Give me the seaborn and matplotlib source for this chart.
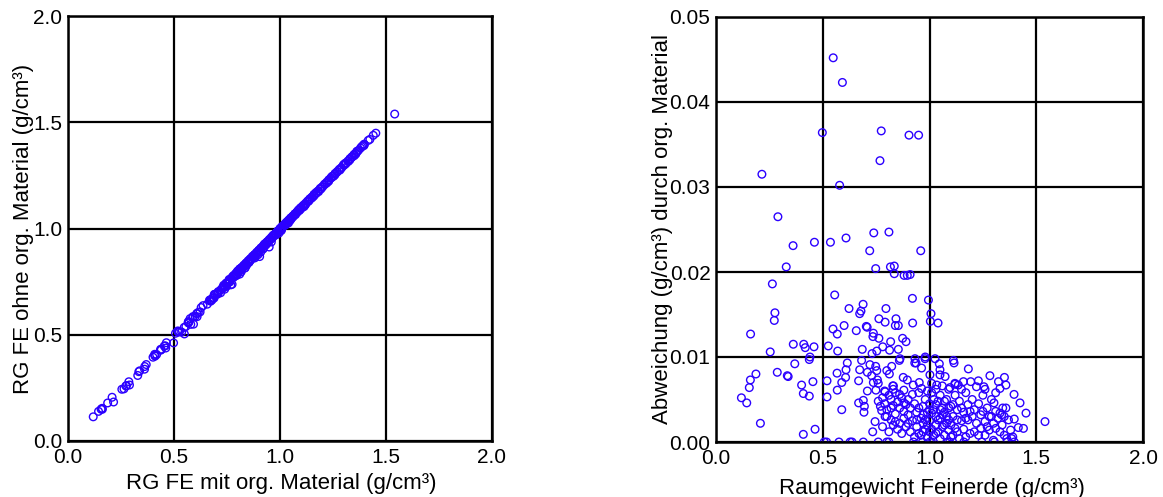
import matplotlib
matplotlib.use("Agg")
import matplotlib.pyplot as plt
import seaborn as sns
import pandas as pd

# Raumgewicht Feinerde mit org. Material (g/cm3) and Abweichung (g/cm3)
rg_mit = [
    0.549, 0.592, 0.498, 0.774, 0.904, 0.949, 0.768, 0.215, 0.579, 0.290,
    0.361, 0.461, 0.536, 0.609, 0.739, 0.810, 0.720, 0.959, 0.329, 0.748,
    0.817, 0.835, 0.835, 0.881, 0.896, 0.909, 0.264, 0.556, 0.689, 0.623,
    0.679, 0.673, 0.796, 0.276, 0.273, 0.162, 0.548, 0.568, 0.600, 0.657,
    0.704, 0.708, 0.763, 0.792, 0.843, 0.840, 0.854, 0.737, 0.735, 0.763,
    0.818, 0.813, 0.781, 0.753, 0.731, 0.685, 0.362, 0.411, 0.418, 0.459,
    0.526, 0.570, 0.254, 0.440, 0.854, 0.920, 0.995, 1.007, 1.004, 1.040,
    0.921, 0.874, 0.890, 0.862, 0.932, 0.979, 1.026, 1.112, 0.437, 0.369,
    0.187, 0.161, 0.156, 0.287, 0.334, 0.338, 0.401, 0.409, 0.437, 0.454,
    0.119, 0.144, 0.208, 0.409, 0.464, 0.520, 0.520, 0.567, 0.568, 0.589,
    0.607, 0.615, 0.609, 0.589, 0.673, 0.682, 0.668, 0.709, 0.721, 0.729,
    0.709, 0.668, 0.690, 0.695, 0.693, 0.748, 0.753, 0.756, 0.760, 0.749,
    0.737, 0.800, 0.812, 0.823, 0.828, 0.792, 0.745, 0.734, 0.776, 0.792,
    0.507, 0.518, 0.576, 0.628, 0.637, 0.690, 0.760, 0.800, 0.810, 0.925,
    0.967, 1.001, 1.009, 1.085, 1.094, 1.161, 1.245, 1.304, 1.363, 1.397,
    0.859, 0.937, 0.931, 0.980, 1.046, 1.049, 1.049, 1.115, 1.182, 1.283,
    1.323, 1.351, 1.358, 1.330, 0.877, 0.896, 0.924, 0.952, 0.963, 0.963,
    1.002, 1.010, 1.034, 1.073, 1.096, 1.119, 1.135, 1.159, 1.193, 1.229,
    1.255, 0.831, 1.396, 1.424, 1.452, 1.397, 1.416, 1.440, 1.541, 1.302,
    1.343, 1.358, 1.338, 1.362, 1.385, 1.299,
    0.76, 0.77, 0.78, 0.79, 0.80, 0.81, 0.82, 0.83, 0.84, 0.85,
    0.86, 0.87, 0.88, 0.89, 0.80, 0.82, 0.84, 0.86, 0.88, 0.90,
    0.78, 0.81, 0.83, 0.85, 0.87, 0.89, 0.79, 0.83, 0.86, 0.88,
    0.90, 0.91, 0.92, 0.93, 0.94, 0.92, 0.94, 0.91, 0.93, 0.95,
    0.96, 0.97, 0.98, 0.99, 0.97, 0.98, 0.99, 1.00, 1.00, 1.01,
    1.02, 1.03, 1.01, 1.02, 1.03, 1.04, 1.05, 1.06, 1.04, 1.05,
    1.06, 1.07, 1.08, 1.09, 1.07, 1.08, 1.09, 1.10, 1.11, 1.12,
    1.10, 1.11, 1.12, 1.13, 1.14, 1.15, 1.13, 1.14, 1.16, 1.17,
    1.18, 1.16, 1.18, 1.19, 1.20, 1.21, 1.22, 1.20, 1.21, 1.23,
    1.24, 1.25, 1.24, 1.26, 1.27, 1.28, 1.26, 1.28, 1.29, 1.30,
    1.31, 1.32, 1.33, 1.34, 1.35, 1.37, 1.38, 1.39, 1.31, 1.26,
    1.22, 1.15, 1.12, 1.06, 1.03, 0.99, 0.95,
    0.96, 0.97, 0.98, 1.00, 1.01, 1.02, 1.03, 1.04, 1.05, 1.06,
    1.07, 1.08, 1.09, 1.10, 1.00, 0.99, 1.03, 1.05, 1.07, 1.09,
    0.97, 0.95, 0.94, 0.90, 0.88, 0.84, 0.82, 1.11, 1.13, 1.15,
    1.17, 1.19, 1.17, 1.23, 1.25, 1.27, 1.29, 1.33, 1.35, 1.31,
]

abweichung = [
    0.0452, 0.0423, 0.0364, 0.0366, 0.0361, 0.0361, 0.0331, 0.0315, 0.0302, 0.0265,
    0.0231, 0.0235, 0.0235, 0.0240, 0.0246, 0.0247, 0.0225, 0.0225, 0.0206, 0.0204,
    0.0206, 0.0207, 0.0198, 0.0196, 0.0196, 0.0197, 0.0186, 0.0173, 0.0162, 0.0157,
    0.0154, 0.0151, 0.0157, 0.0152, 0.0143, 0.0127, 0.0133, 0.0127, 0.0137, 0.0131,
    0.0136, 0.0135, 0.0145, 0.0141, 0.0145, 0.0137, 0.0137, 0.0128, 0.0124, 0.0122,
    0.0118, 0.0108, 0.0112, 0.0107, 0.0104, 0.0109, 0.0115, 0.0115, 0.0111, 0.0112,
    0.0113, 0.0107, 0.0106, 0.0100, 0.0109, 0.0169, 0.0167, 0.0151, 0.0142, 0.0140,
    0.0140, 0.0122, 0.0118, 0.0098, 0.0098, 0.0098, 0.0098, 0.0096, 0.0097, 0.0092,
    0.0080, 0.0073, 0.0064, 0.0082, 0.0078, 0.0077, 0.0067, 0.0057, 0.0054, 0.0071,
    0.0052, 0.0046, 0.0022, 0.0009, 0.0015, 0.0072, 0.0053, 0.0081, 0.0061, 0.0070,
    0.0076, 0.0093, 0.0085, 0.0038, 0.0085, 0.0096, 0.0072, 0.0082, 0.0091, 0.0078,
    0.0060, 0.0046, 0.0049, 0.0042, 0.0035, 0.0089, 0.0084, 0.0073, 0.0069, 0.0061,
    0.0070, 0.0084, 0.0080, 0.0089, 0.0066, 0.0059, 0.0024, 0.0012, 0.0037, 0.0030,
    0.0000, 0.0000, 0.0000, 0.0000, 0.0000, 0.0000, 0.0000, 0.0000, 0.0000, 0.0000,
    0.0000, 0.0000, 0.0000, 0.0000, 0.0000, 0.0000, 0.0000, 0.0000, 0.0000, 0.0000,
    0.0096, 0.0093, 0.0093, 0.0100, 0.0092, 0.0085, 0.0079, 0.0093, 0.0086, 0.0078,
    0.0071, 0.0076, 0.0067, 0.0063, 0.0076, 0.0073, 0.0067, 0.0070, 0.0087, 0.0063,
    0.0079, 0.0069, 0.0067, 0.0077, 0.0064, 0.0069, 0.0067, 0.0071, 0.0071, 0.0072,
    0.0065, 0.0066, 0.0056, 0.0046, 0.0034, 0.0027, 0.0017, 0.0016, 0.0024, 0.0046,
    0.0040, 0.0040, 0.0032, 0.0004, 0.0004, 0.0002,
    0.0048, 0.0042, 0.0052, 0.0045, 0.0038, 0.0055, 0.0050, 0.0043, 0.0058, 0.0047,
    0.0040, 0.0052, 0.0036, 0.0044, 0.0030, 0.0026, 0.0033, 0.0022, 0.0028, 0.0032,
    0.0018, 0.0012, 0.0020, 0.0015, 0.0010, 0.0018, 0.0060, 0.0062, 0.0056, 0.0061,
    0.0050, 0.0040, 0.0056, 0.0045, 0.0035, 0.0025, 0.0018, 0.0012, 0.0006, 0.0010,
    0.0028, 0.0042, 0.0050, 0.0035, 0.0022, 0.0015, 0.0005, 0.0025, 0.0045, 0.0058,
    0.0038, 0.0030, 0.0015, 0.0008, 0.0020, 0.0048, 0.0055, 0.0040, 0.0012, 0.0028,
    0.0018, 0.0035, 0.0050, 0.0062, 0.0008, 0.0022, 0.0014, 0.0042, 0.0030, 0.0055,
    0.0020, 0.0008, 0.0016, 0.0038, 0.0048, 0.0025, 0.0012, 0.0004, 0.0035, 0.0058,
    0.0044, 0.0015, 0.0026, 0.0010, 0.0050, 0.0038, 0.0022, 0.0030, 0.0012, 0.0045,
    0.0032, 0.0055, 0.0016, 0.0024, 0.0040, 0.0030, 0.0008, 0.0014, 0.0050, 0.0022,
    0.0036, 0.0028, 0.0012, 0.0020, 0.0030, 0.0026, 0.0014, 0.0006, 0.0058, 0.0062,
    0.0065, 0.0062, 0.0068, 0.0066, 0.0062, 0.0060, 0.0058,
    0.0008, 0.0032, 0.0026, 0.0012, 0.0034, 0.0050, 0.0044, 0.0026, 0.0004, 0.0032,
    0.0048, 0.0030, 0.0040, 0.0006, 0.0038, 0.0020, 0.0010, 0.0038, 0.0020, 0.0026,
    0.0012, 0.0040, 0.0026, 0.0022, 0.0046, 0.0024, 0.0040, 0.0044, 0.0026, 0.0040,
    0.0028, 0.0036, 0.0006, 0.0008, 0.0036, 0.0018, 0.0030, 0.0034, 0.0008, 0.0016,
]

xy_ticks = [0.0, 0.5, 1.0, 1.5, 2.0]
dev_ticks = [0.00, 0.01, 0.02, 0.03, 0.04, 0.05]

df = pd.DataFrame({"mit": rg_mit, "dev": abweichung})
df["ohne"] = df["mit"] - df["dev"]

sns.set_style("white")
plt.rcParams["font.family"] = ["Liberation Sans", "DejaVu Sans"]
plt.rcParams["font.size"] = 15
plt.rcParams["text.color"] = "black"
plt.rcParams["axes.labelcolor"] = "black"
plt.rcParams["xtick.color"] = "black"
plt.rcParams["ytick.color"] = "black"

MC = "#2b00ff"
fig = plt.figure(figsize=(11.63, 4.97), dpi=100)
ax1 = fig.add_axes([68 / 1163, 56 / 497, 424 / 1163, 425 / 497])
ax2 = fig.add_axes([716 / 1163, 55 / 497, 427 / 1163, 425 / 497])

sns.scatterplot(data=df, x="mit", y="ohne", ax=ax1, marker="o", s=30,
                facecolor="none", edgecolor=MC, linewidth=1.0)
sns.scatterplot(data=df, x="mit", y="dev", ax=ax2, marker="o", s=30,
                facecolor="none", edgecolor=MC, linewidth=1.0)

for ax in (ax1, ax2):
    ax.set_xlim(0, 2)
    ax.set_xticks(xy_ticks)
    ax.set_xticklabels([f"{t:.1f}" for t in xy_ticks])
    ax.grid(True, color="black", linewidth=1.6)
    ax.set_axisbelow(True)
    for sp in ax.spines.values():
        sp.set_visible(True)
        sp.set_color("black")
        sp.set_linewidth(1.8)
    ax.tick_params(length=0, labelsize=15, colors="black", labelcolor="black")
    ax.tick_params(axis="x", pad=5)
    ax.tick_params(axis="y", pad=4)

ax1.set_ylim(0, 2)
ax1.set_yticks(xy_ticks)
ax1.set_yticklabels([f"{t:.1f}" for t in xy_ticks])
ax1.set_xlabel("RG FE mit org. Material (g/cm³)", fontsize=16, color="black")
ax1.set_ylabel("RG FE ohne org. Material (g/cm³)", fontsize=16, color="black")
ax1.xaxis.set_label_coords(0.502, -0.101)
ax1.yaxis.set_label_coords(-0.104, 0.5)

ax2.set_ylim(0, 0.05)
ax2.set_yticks(dev_ticks)
ax2.set_yticklabels([f"{t:.2f}" for t in dev_ticks])
ax2.set_xlabel("Raumgewicht Feinerde (g/cm³)", fontsize=16, color="black")
ax2.set_ylabel("Abweichung (g/cm³) durch org. Material", fontsize=16, color="black")
ax2.xaxis.set_label_coords(0.506, -0.11)
ax2.yaxis.set_label_coords(-0.126, 0.5)

for ax in (ax1, ax2):
    ax.xaxis.label.set_va("center")
    ax.yaxis.label.set_va("center")

fig.savefig("out.png", dpi=100)
